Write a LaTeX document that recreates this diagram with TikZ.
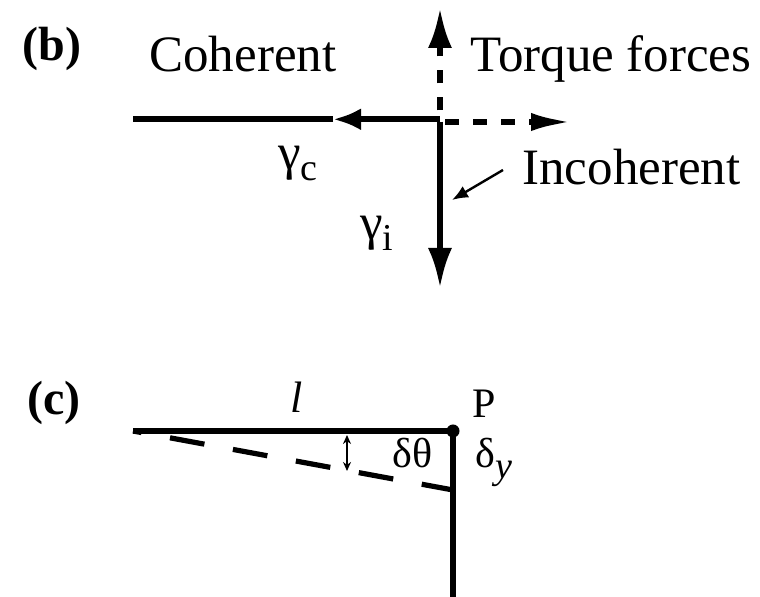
\documentclass[tikz,border=0pt]{standalone}
\usepackage{fontspec}
\setmainfont{Liberation Serif}
\newfontfamily\lblfont{Liberation Serif Bold}
\usetikzlibrary{arrows.meta}
\newcommand\mysub[2]{\raisebox{-#1}{\fontsize{19}{19}\selectfont #2}}
\begin{document}
\begin{tikzpicture}[x=0.5pt,y=-0.5pt,
  heavy/.style={line width=3pt},
  thinarrow/.style={line width=1.2pt},
  lbl/.style={font=\lblfont\fontsize{24}{24}\selectfont, inner sep=0pt},
  bigtxt/.style={font=\fontsize{25.5}{26}\selectfont, inner sep=0pt, anchor=base west},
  smtxt/.style={font=\fontsize{21}{21}\selectfont, inner sep=0pt, anchor=base west}]
\useasboundingbox (0,0) rectangle (760,597);

% ---------- (b) ----------
\node[lbl] (lb) at (52,49) {(b)};
\coordinate (O) at (440,119.3);
\coordinate (CL) at (133,119.3);
\coordinate (CM) at (333,119.3);
\coordinate (Oright) at (440,122);
\coordinate (TR) at (573,122);
\coordinate (TU) at (440,8);
\coordinate (ID) at (440,288);

\draw[heavy] (CM) -- (CL);
\draw[heavy,-{Latex[length=14pt,width=11pt]}] (O) -- (CM);
\draw[heavy,dash pattern=on 7pt off 7pt,dash phase=11.5pt,-{Latex[length=21pt,width=9pt]}] (Oright) -- (TR);
\draw[heavy,dash pattern=on 6.5pt off 7pt,dash phase=9pt,-{Latex[length=20pt,width=12pt]}] (O) -- (TU);
\draw[heavy,-{Latex[length=20pt,width=12pt]}] ([yshift=-1.2pt]O) -- (ID);

\node[bigtxt] (coh) at (149,72) {Coherent};
\node[bigtxt] (torq) at (470,72) {Torque forces};
\node[bigtxt] (incoh) at (522,185) {Incoherent};
\node[bigtxt] (gc) at (278,170) {γ\mysub{0.2em}{c}};
\node[bigtxt] (gi) at (360,240) {γ\mysub{0.2em}{i}};
\coordinate (IA) at (503,170);
\coordinate (IB) at (452,200);
\draw[thinarrow,-{Latex[length=8pt,width=6.5pt]}] (IA) -- (IB);

% ---------- (c) ----------
\node[lbl] (lc) at (54,403) {(c)};
\coordinate (A) at (133,431);
\coordinate (P) at (453,431);
\coordinate (B) at (453,597);
\coordinate (D) at (453,490);
\draw[heavy] (A) -- (P) -- (B);
\node[circle,fill=black,inner sep=0pt,minimum size=6.5pt] (dot) at (P) {};
\draw[line width=2.6pt,dash pattern=on 17.5pt off 14.5pt,dash phase=13.2pt] (A) -- (D);
\coordinate (da) at (347,435);
\coordinate (db) at (347,471);
\draw[line width=0.9pt,{Stealth[length=4.5pt,width=4pt]}-{Stealth[length=4.5pt,width=4pt]}] (da) -- (db);

\node[smtxt,font=\itshape\fontsize{22}{22}\selectfont] (ll) at (290,413) {l};
\node[smtxt] (pp) at (472,418) {P};
\node[smtxt] (dt) at (392,468) {δθ};
\node[smtxt] (dy) at (475,468) {δ\mysub{0.25em}{\itshape y}};
\end{tikzpicture}
\end{document}
